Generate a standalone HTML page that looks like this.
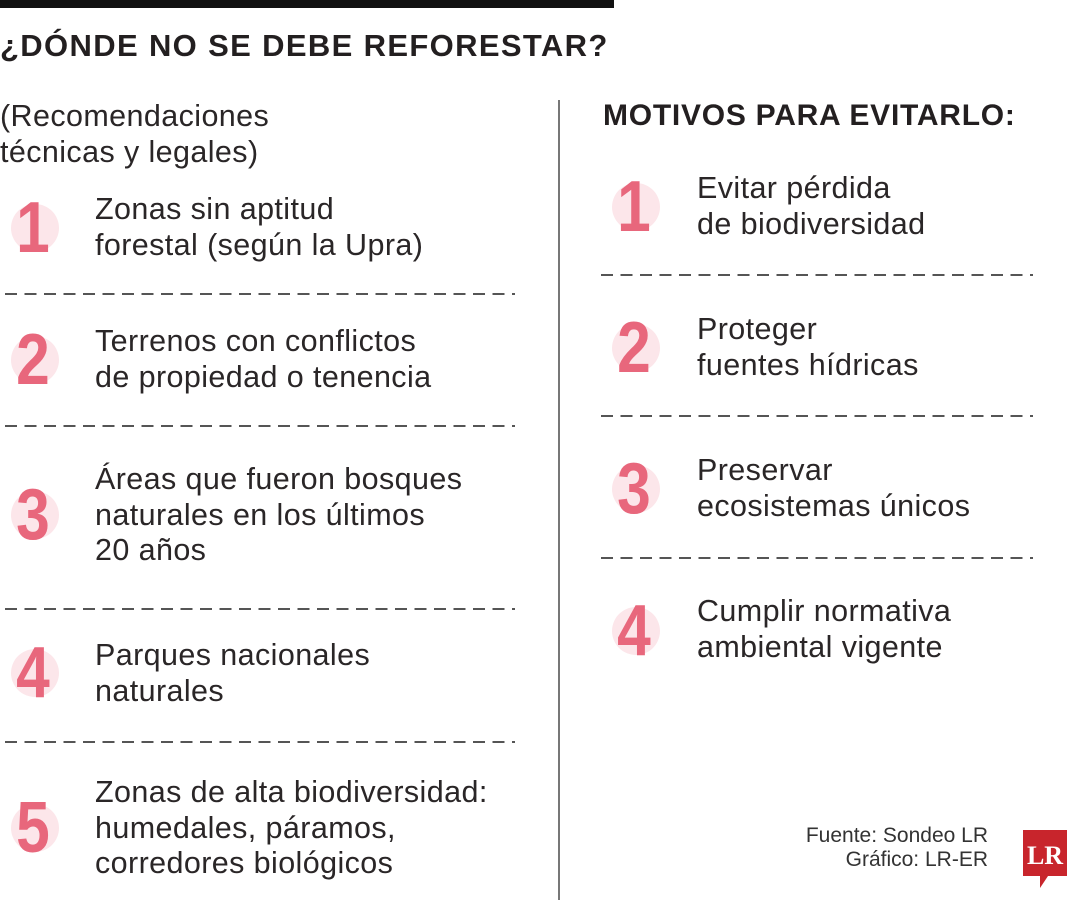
<!DOCTYPE html>
<html><head><meta charset="utf-8"><style>
body{margin:0;width:1080px;height:900px;background:#fff;position:relative;overflow:hidden;font-family:"Liberation Sans",sans-serif;color:#231f20}
.a{position:absolute;white-space:nowrap}
.t{font-size:30.5px;line-height:35.5px;letter-spacing:0.4px;color:#2a2627}
.c{position:absolute;width:48px;height:48px;border-radius:50%;background:#fce6ea}
.n{position:absolute;width:60px;text-align:center;font-weight:bold;font-size:72px;line-height:74px;color:#e8677c;transform:scaleX(0.84)}
.d{position:absolute;height:1.5px;background:repeating-linear-gradient(90deg,#555 0 12px,transparent 12px 19.5px)}
</style></head><body>
<div class="a" style="left:0;top:0;width:614px;height:8px;background:#111"></div>
<div class="a" style="left:0;top:28px;font-size:31px;font-weight:bold;letter-spacing:1.35px">¿DÓNDE NO SE DEBE REFORESTAR?</div>
<div class="a" style="left:558px;top:100px;width:1.5px;height:800px;background:#777"></div>
<div class="a t" style="left:0;top:99px">(Recomendaciones<br>técnicas y legales)</div>
<div class="a" style="left:603px;top:99px;font-size:30px;font-weight:bold;letter-spacing:0.75px">MOTIVOS PARA EVITARLO:</div>

<div class="c" style="left:11px;top:204px"></div><div class="n" style="left:3px;top:191px">1</div>
<div class="a t" style="left:95px;top:192px">Zonas sin aptitud<br>forestal (según la Upra)</div>
<div class="d" style="left:5px;width:510px;top:293px"></div>

<div class="c" style="left:11px;top:336px"></div><div class="n" style="left:3px;top:323px">2</div>
<div class="a t" style="left:95px;top:324px">Terrenos con conflictos<br>de propiedad o tenencia</div>
<div class="d" style="left:5px;width:510px;top:425px"></div>

<div class="c" style="left:11px;top:491px"></div><div class="n" style="left:3px;top:478px">3</div>
<div class="a t" style="left:95px;top:462px">Áreas que fueron bosques<br>naturales en los últimos<br>20 años</div>
<div class="d" style="left:5px;width:510px;top:608px"></div>

<div class="c" style="left:11px;top:649px"></div><div class="n" style="left:3px;top:636px">4</div>
<div class="a t" style="left:95px;top:638px">Parques nacionales<br>naturales</div>
<div class="d" style="left:5px;width:510px;top:741px"></div>

<div class="c" style="left:11px;top:804px"></div><div class="n" style="left:3px;top:791px">5</div>
<div class="a t" style="left:95px;top:775px">Zonas de alta biodiversidad:<br>humedales, páramos,<br>corredores biológicos</div>

<div class="c" style="left:612px;top:183px"></div><div class="n" style="left:604px;top:170px">1</div>
<div class="a t" style="left:697px;top:171px">Evitar pérdida<br>de biodiversidad</div>
<div class="d" style="left:601px;width:432px;top:274px"></div>

<div class="c" style="left:612px;top:324px"></div><div class="n" style="left:604px;top:311px">2</div>
<div class="a t" style="left:697px;top:312px">Proteger<br>fuentes hídricas</div>
<div class="d" style="left:601px;width:432px;top:415px"></div>

<div class="c" style="left:612px;top:465px"></div><div class="n" style="left:604px;top:452px">3</div>
<div class="a t" style="left:697px;top:453px">Preservar<br>ecosistemas únicos</div>
<div class="d" style="left:601px;width:432px;top:557px"></div>

<div class="c" style="left:612px;top:607px"></div><div class="n" style="left:604px;top:594px">4</div>
<div class="a t" style="left:697px;top:594px">Cumplir normativa<br>ambiental vigente</div>

<div class="a" style="right:92px;top:824px;font-size:21px;line-height:24px;text-align:right;color:#333">Fuente: Sondeo LR<br>Gráfico: LR-ER</div>
<svg class="a" style="left:1020px;top:828px" width="50" height="62" viewBox="0 0 50 62">
<path d="M3 2h44v46H28l-8 12v-12H3z" fill="#c8252c"/>
<text x="25" y="36" text-anchor="middle" font-family="Liberation Serif,serif" font-weight="bold" font-size="26" fill="#fff">LR</text>
</svg>
</body></html>
